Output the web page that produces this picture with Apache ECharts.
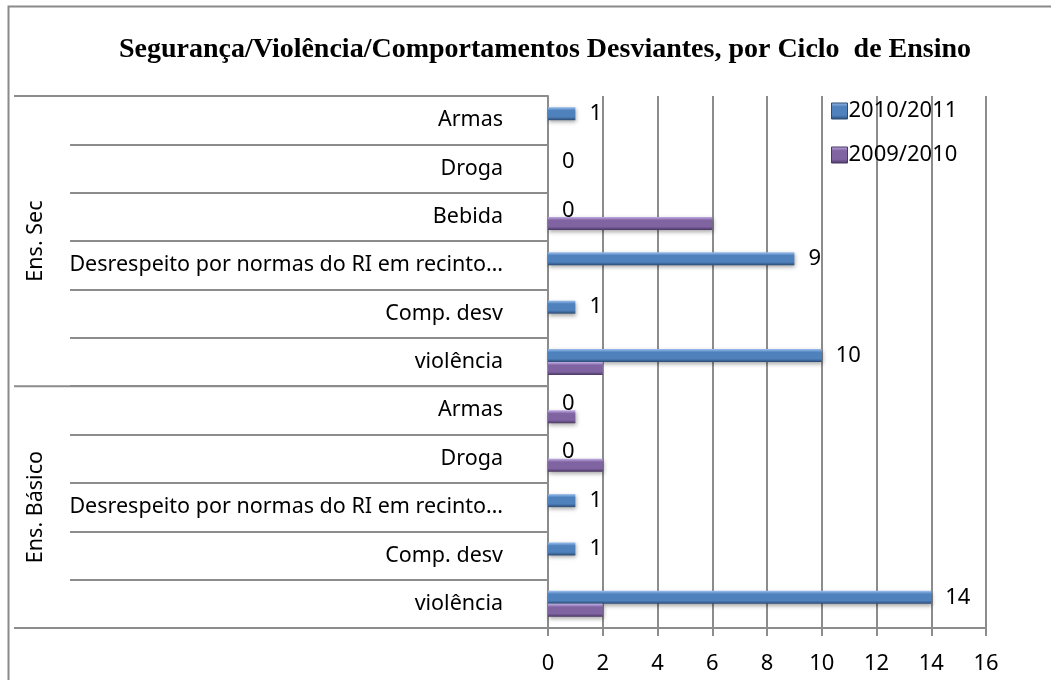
<!DOCTYPE html>
<html>
<head>
<meta charset="utf-8">
<script src="https://cdn.jsdelivr.net/npm/echarts@6/dist/echarts.min.js"></script>
<style>html,body{margin:0;padding:0;background:#fff}#c{width:1051px;height:680px}</style>
</head>
<body>
<div id="c"></div>
<script>
// Categories listed bottom to top
const categories = ['violência','Comp. desv','Desrespeito por normas do RI em recinto…','Droga','Armas',
                    'violência','Comp. desv','Desrespeito por normas do RI em recinto…','Bebida','Droga','Armas'];
const groupNames = ['Ens. Básico','Ens. Sec'];
const groupSizes = [5, 6];
const seriesNames = ['2010/2011','2009/2010'];
const values2010_2011 = [14,1,1,0,0,10,1,9,0,0,1];
const values2009_2010 = [2,0,0,2,1,2,0,0,6,0,0];
const xMin = 0, xMax = 16, xInterval = 2;
const titleText = 'Segurança/Violência/Comportamentos Desviantes, por Ciclo  de Ensino';

const FONT = 'Noto Sans';
const GRID = '#8c8c8c';
const BLUE = ['#9cc0ee', '#4f81bd', '#2b4b73'];
const PURPLE = ['#c3aee6', '#8064a2', '#4a3762'];

function grad(c) {
  return new echarts.graphic.LinearGradient(0, 0, 0, 1, [
    {offset: 0, color: c[0]},
    {offset: 0.25, color: c[1]},
    {offset: 0.75, color: c[1]},
    {offset: 1, color: c[2]}
  ]);
}

const chart = echarts.init(document.getElementById('c'), null, {renderer: 'canvas'});
const option = {
  animation: false,
  backgroundColor: '#fff',
  title: {
    text: titleText,
    left: 540, top: 31, textAlign: 'center',
    textStyle: {fontFamily: 'Liberation Serif', fontWeight: 'bold', fontSize: 28, color: '#000'}
  },
  legend: {
    data: [
      {name: seriesNames[0], itemStyle: {color: grad(BLUE), borderColor: BLUE[2], borderWidth: 1, shadowBlur: 0, shadowOffsetX: 0, shadowOffsetY: 0}},
      {name: seriesNames[1], itemStyle: {color: grad(PURPLE), borderColor: PURPLE[2], borderWidth: 1, shadowBlur: 0, shadowOffsetX: 0, shadowOffsetY: 0}}
    ],
    orient: 'vertical',
    left: 826, top: 95,
    itemWidth: 16, itemHeight: 16, itemGap: 22,
    icon: 'rect',
    textStyle: {fontFamily: FONT, fontSize: 22, color: '#000', padding: [0,0,0,-4]}
  },
  grid: {left: 548, right: 65, top: 96, bottom: 52, containLabel: false},
  xAxis: {
    type: 'value', min: xMin, max: xMax, interval: xInterval,
    axisLine: {show: true, lineStyle: {color: GRID, width: 2}},
    axisTick: {show: true, length: 8, lineStyle: {color: GRID, width: 2}},
    axisLabel: {fontFamily: FONT, fontSize: 22, color: '#000', margin: 25},
    splitLine: {show: true, lineStyle: {color: GRID, width: 2}}
  },
  yAxis: {
    type: 'category', data: categories,
    axisLine: {show: true, lineStyle: {color: GRID, width: 2}},
    axisTick: {show: true, length: 478, lineStyle: {color: GRID, width: 2}},
    axisLabel: {fontFamily: FONT, fontSize: 21.5, color: '#000', margin: 45, interval: 0},
    splitLine: {show: false}
  },
  series: [
    {
      name: seriesNames[0], type: 'bar', data: values2010_2011,
      barWidth: 13, barGap: '0%',
      itemStyle: {
        color: grad(BLUE), borderWidth: 0,
        shadowBlur: 4, shadowColor: 'rgba(0,0,0,0.35)', shadowOffsetY: 2, shadowOffsetX: 1
      },
      label: {show: true, position: 'right', distance: 14, fontFamily: FONT, fontSize: 22, color: '#000'}
    },
    {
      name: seriesNames[1], type: 'bar', data: values2009_2010,
      barWidth: 13, barGap: '0%',
      itemStyle: {
        color: grad(PURPLE), borderWidth: 0,
        shadowBlur: 4, shadowColor: 'rgba(0,0,0,0.35)', shadowOffsetY: 2, shadowOffsetX: 1
      }
    }
  ]
};
chart.setOption(option);

// group lines and labels computed through the axis scale
const py = i => chart.convertToPixel({yAxisIndex: 0}, i);
const step = py(0) - py(1);
const boundary = i => py(i) + step / 2; // boundary below category i
const x0 = chart.convertToPixel({xAxisIndex: 0}, xMin);
const graphics = [
  {type: 'rect', shape: {x: 8.5, y: 6.5, width: 1200, height: 800}, style: {fill: null, stroke: '#8a8a8a', lineWidth: 2}, silent: true}
];
let start = 0;
const bounds = [boundary(0)];
groupSizes.forEach((n, g) => {
  const yBottom = boundary(start);
  const yTop = boundary(start + n);
  bounds.push(yTop);
  graphics.push({
    type: 'text', x: 36, y: (yBottom + yTop) / 2, rotation: Math.PI / 2,
    style: {text: groupNames[g], fontFamily: FONT, fontSize: 21.5, fill: '#000', align: 'center', verticalAlign: 'middle'}
  });
  start += n;
});
bounds.forEach(y => graphics.push({
  type: 'line', shape: {x1: 14, y1: y, x2: x0, y2: y}, style: {stroke: GRID, lineWidth: 2}
}));
chart.setOption({graphic: graphics});
</script>
</body>
</html>
